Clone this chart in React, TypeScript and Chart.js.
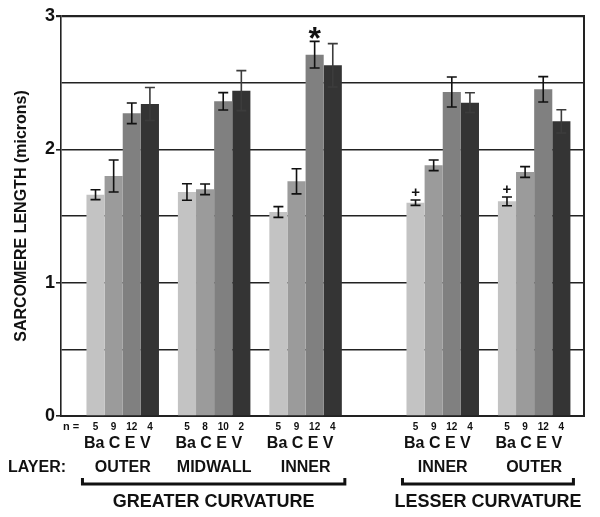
import React, { useEffect, useRef } from 'react';
import { Chart, registerables } from 'chart.js';

Chart.register(...registerables);

// ---- data ----
const groupLayers = ['OUTER', 'MIDWALL', 'INNER', 'INNER', 'OUTER'];
const groupX = [0, 2, 4, 7, 9];
const curvatureLabels = ['GREATER CURVATURE', 'LESSER CURVATURE'];
const curvatureGroups = [[0, 1, 2], [3, 4]];
const conditionLabels = ['Ba', 'C', 'E', 'V'];

const baValues = [1.66, 1.68, 1.53, 1.6, 1.61];
const cValues = [1.8, 1.7, 1.76, 1.88, 1.83];
const eValues = [2.27, 2.36, 2.71, 2.43, 2.45];
const vValues = [2.34, 2.44, 2.63, 2.35, 2.21];

const baErrors = [0.037, 0.062, 0.04, 0.02, 0.033];
const cErrors = [0.12, 0.04, 0.094, 0.04, 0.04];
const eErrors = [0.077, 0.065, 0.1, 0.112, 0.095];
const vErrors = [0.124, 0.15, 0.163, 0.074, 0.087];

const baN = [5, 5, 5, 5, 5];
const cN = [9, 8, 9, 9, 9];
const eN = [12, 10, 12, 12, 12];
const vN = [4, 2, 4, 4, 4];

const yTickLabels = [0, 1, 2, 3];
const yTitle = 'SARCOMERE LENGTH (microns)';

const markSeries = [2, 0, 0];
const markGroups = [2, 3, 4];
const markSymbols = ['*', '+', '+'];

const seriesValues = [baValues, cValues, eValues, vValues];
const seriesErrors = [baErrors, cErrors, eErrors, vErrors];
const seriesN = [baN, cN, eN, vN];
const seriesColors = ['#c3c3c3', '#9b9b9b', '#808080', '#343434'];
const errColors = ['#111111', '#111111', '#111111', '#3c3c3c'];

const FONT = "'Liberation Sans', Arial, Helvetica, sans-serif";

const annotate = {
  id: 'annotate',
  afterDatasetsDraw(chart: any) {
    const ctx = chart.ctx;
    const y = chart.scales.y;
    seriesValues.forEach((vals, si) => {
      const meta = chart.getDatasetMeta(si);
      meta.data.forEach((el: any, j: number) => {
        const v = vals[j];
        const e = seriesErrors[si][j];
        const top = y.getPixelForValue(v + e);
        const bot = y.getPixelForValue(v - e);
        ctx.save();
        ctx.strokeStyle = errColors[si];
        ctx.lineWidth = 1.6;
        ctx.beginPath();
        ctx.moveTo(el.x, top);
        ctx.lineTo(el.x, bot);
        ctx.moveTo(el.x - 5, top);
        ctx.lineTo(el.x + 5, top);
        ctx.moveTo(el.x - 5, bot);
        ctx.lineTo(el.x + 5, bot);
        ctx.stroke();
        ctx.restore();
      });
    });
    markSymbols.forEach((sym, k) => {
      const si = markSeries[k];
      const gi = markGroups[k];
      const el = chart.getDatasetMeta(si).data[gi];
      const top = y.getPixelForValue(seriesValues[si][gi] + seriesErrors[si][gi]);
      ctx.save();
      ctx.fillStyle = '#111';
      ctx.textAlign = 'center';
      if (sym === '*') {
        ctx.font = `bold 32px ${FONT}`;
        ctx.textBaseline = 'alphabetic';
        ctx.fillText(sym, el.x, top + 8);
      } else {
        ctx.font = `bold 15px ${FONT}`;
        ctx.textBaseline = 'middle';
        ctx.fillText(sym, el.x, top - 7);
      }
      ctx.restore();
    });
  },
  afterDraw(chart: any) {
    const ctx = chart.ctx;
    const area = chart.chartArea;
    const b = area.bottom;
    ctx.save();
    // right border
    ctx.strokeStyle = '#222';
    ctx.lineWidth = 2;
    ctx.beginPath();
    ctx.moveTo(area.right, area.top - 1);
    ctx.lineTo(area.right, area.bottom);
    ctx.stroke();

    ctx.fillStyle = '#111';
    ctx.textBaseline = 'middle';
    // n =
    ctx.font = `bold 11px ${FONT}`;
    ctx.textAlign = 'left';
    ctx.fillText('n =', area.left + 2, b + 11);

    const groupLeft: number[] = [];
    const groupRight: number[] = [];
    const groupCenter: number[] = [];
    groupLayers.forEach((_, gi) => {
      const first = chart.getDatasetMeta(0).data[gi];
      const last = chart.getDatasetMeta(3).data[gi];
      groupLeft.push(first.x - first.width / 2);
      groupRight.push(last.x + last.width / 2);
      groupCenter.push((first.x - first.width / 2 + last.x + last.width / 2) / 2);
    });

    // n values
    ctx.font = `bold 10px ${FONT}`;
    ctx.textAlign = 'center';
    seriesN.forEach((ns, si) => {
      const meta = chart.getDatasetMeta(si);
      meta.data.forEach((el: any, j: number) => {
        ctx.fillText(String(ns[j]), el.x, b + 11);
      });
    });

    // condition labels
    ctx.font = `bold 16px ${FONT}`;
    ctx.textAlign = 'left';
    groupLayers.forEach((_, gi) => {
      ctx.fillText(conditionLabels.join(' '), groupLeft[gi] - 2.5, b + 28);
    });

    // layer row
    ctx.fillText('LAYER:', 8, b + 52);
    ctx.textAlign = 'center';
    groupLayers.forEach((name, gi) => {
      ctx.fillText(name, groupCenter[gi], b + 52);
    });

    // brackets + curvature labels
    curvatureLabels.forEach((label, ci) => {
      const gs = curvatureGroups[ci];
      const x0 = groupLeft[gs[0]] - 4;
      const x1 = groupRight[gs[gs.length - 1]] + 3;
      ctx.strokeStyle = '#111';
      ctx.lineWidth = 3;
      ctx.beginPath();
      ctx.moveTo(x0, b + 62);
      ctx.lineTo(x0, b + 68);
      ctx.lineTo(x1, b + 68);
      ctx.lineTo(x1, b + 62);
      ctx.stroke();
      ctx.font = `bold 18px ${FONT}`;
      ctx.textAlign = 'center';
      ctx.fillText(label, (x0 + x1) / 2, b + 86);
    });
    ctx.restore();
  },
};

export default function App() {
  const ref = useRef<HTMLCanvasElement | null>(null);
  useEffect(() => {
    if (!ref.current) return;
    Chart.defaults.font.family = FONT;
    const chart = new Chart(ref.current, {
      type: 'bar',
      data: {
        datasets: conditionLabels.map((lab, si) => ({
          label: lab,
          data: groupX.map((x, j) => ({ x, y: seriesValues[si][j] })),
          backgroundColor: seriesColors[si],
          borderWidth: 0,
          categoryPercentage: 0.793,
          barPercentage: 1.0,
        })),
      },
      options: {
        responsive: false,
        animation: false,
        events: [],
        layout: { padding: { top: 16, right: 16, left: 0, bottom: 0 } },
        plugins: { legend: { display: false }, tooltip: { enabled: false } },
        scales: {
          x: {
            type: 'linear',
            offset: false,
            min: -1.35,
            max: 10.09,
            afterBuildTicks: (scale: any) => {
              scale.ticks = groupX.map((v) => ({ value: v }));
            },
            afterFit: (scale: any) => {
              scale.height = 101;
            },
            ticks: { display: false },
            grid: { display: false, drawTicks: false, offset: false },
            border: { display: true, color: '#222', width: 2 },
          },
          y: {
            min: 0,
            max: 3,
            afterFit: (scale: any) => {
              scale.width = 61;
            },
            ticks: {
              stepSize: 0.5,
              padding: 1,
              color: '#111',
              font: { size: 18, weight: 'bold', family: FONT },
              callback: (v: any) => (yTickLabels.includes(Number(v)) ? String(v) : ''),
            },
            grid: {
              color: '#222',
              lineWidth: (c: any) => (c.tick && c.tick.value === 3 ? 2.2 : 1.6),
              tickLength: 5,
              tickColor: (c: any) =>
                c.tick && yTickLabels.includes(Number(c.tick.value)) ? '#222' : 'rgba(0,0,0,0)',
            },
            border: { display: true, color: '#222', width: 1.6 },
            title: {
              display: true,
              text: yTitle,
              color: '#111',
              font: { size: 16, weight: 'bold', family: FONT },
              padding: { top: 12, bottom: 0 },
            },
          },
        },
      },
      plugins: [annotate],
    } as any);
    return () => chart.destroy();
  }, []);
  return (
    <div style={{ position: 'absolute', left: 0, top: 0, width: 600, height: 517, background: '#fff' }}>
      <canvas ref={ref} width={600} height={517} style={{ display: 'block' }} />
    </div>
  );
}
